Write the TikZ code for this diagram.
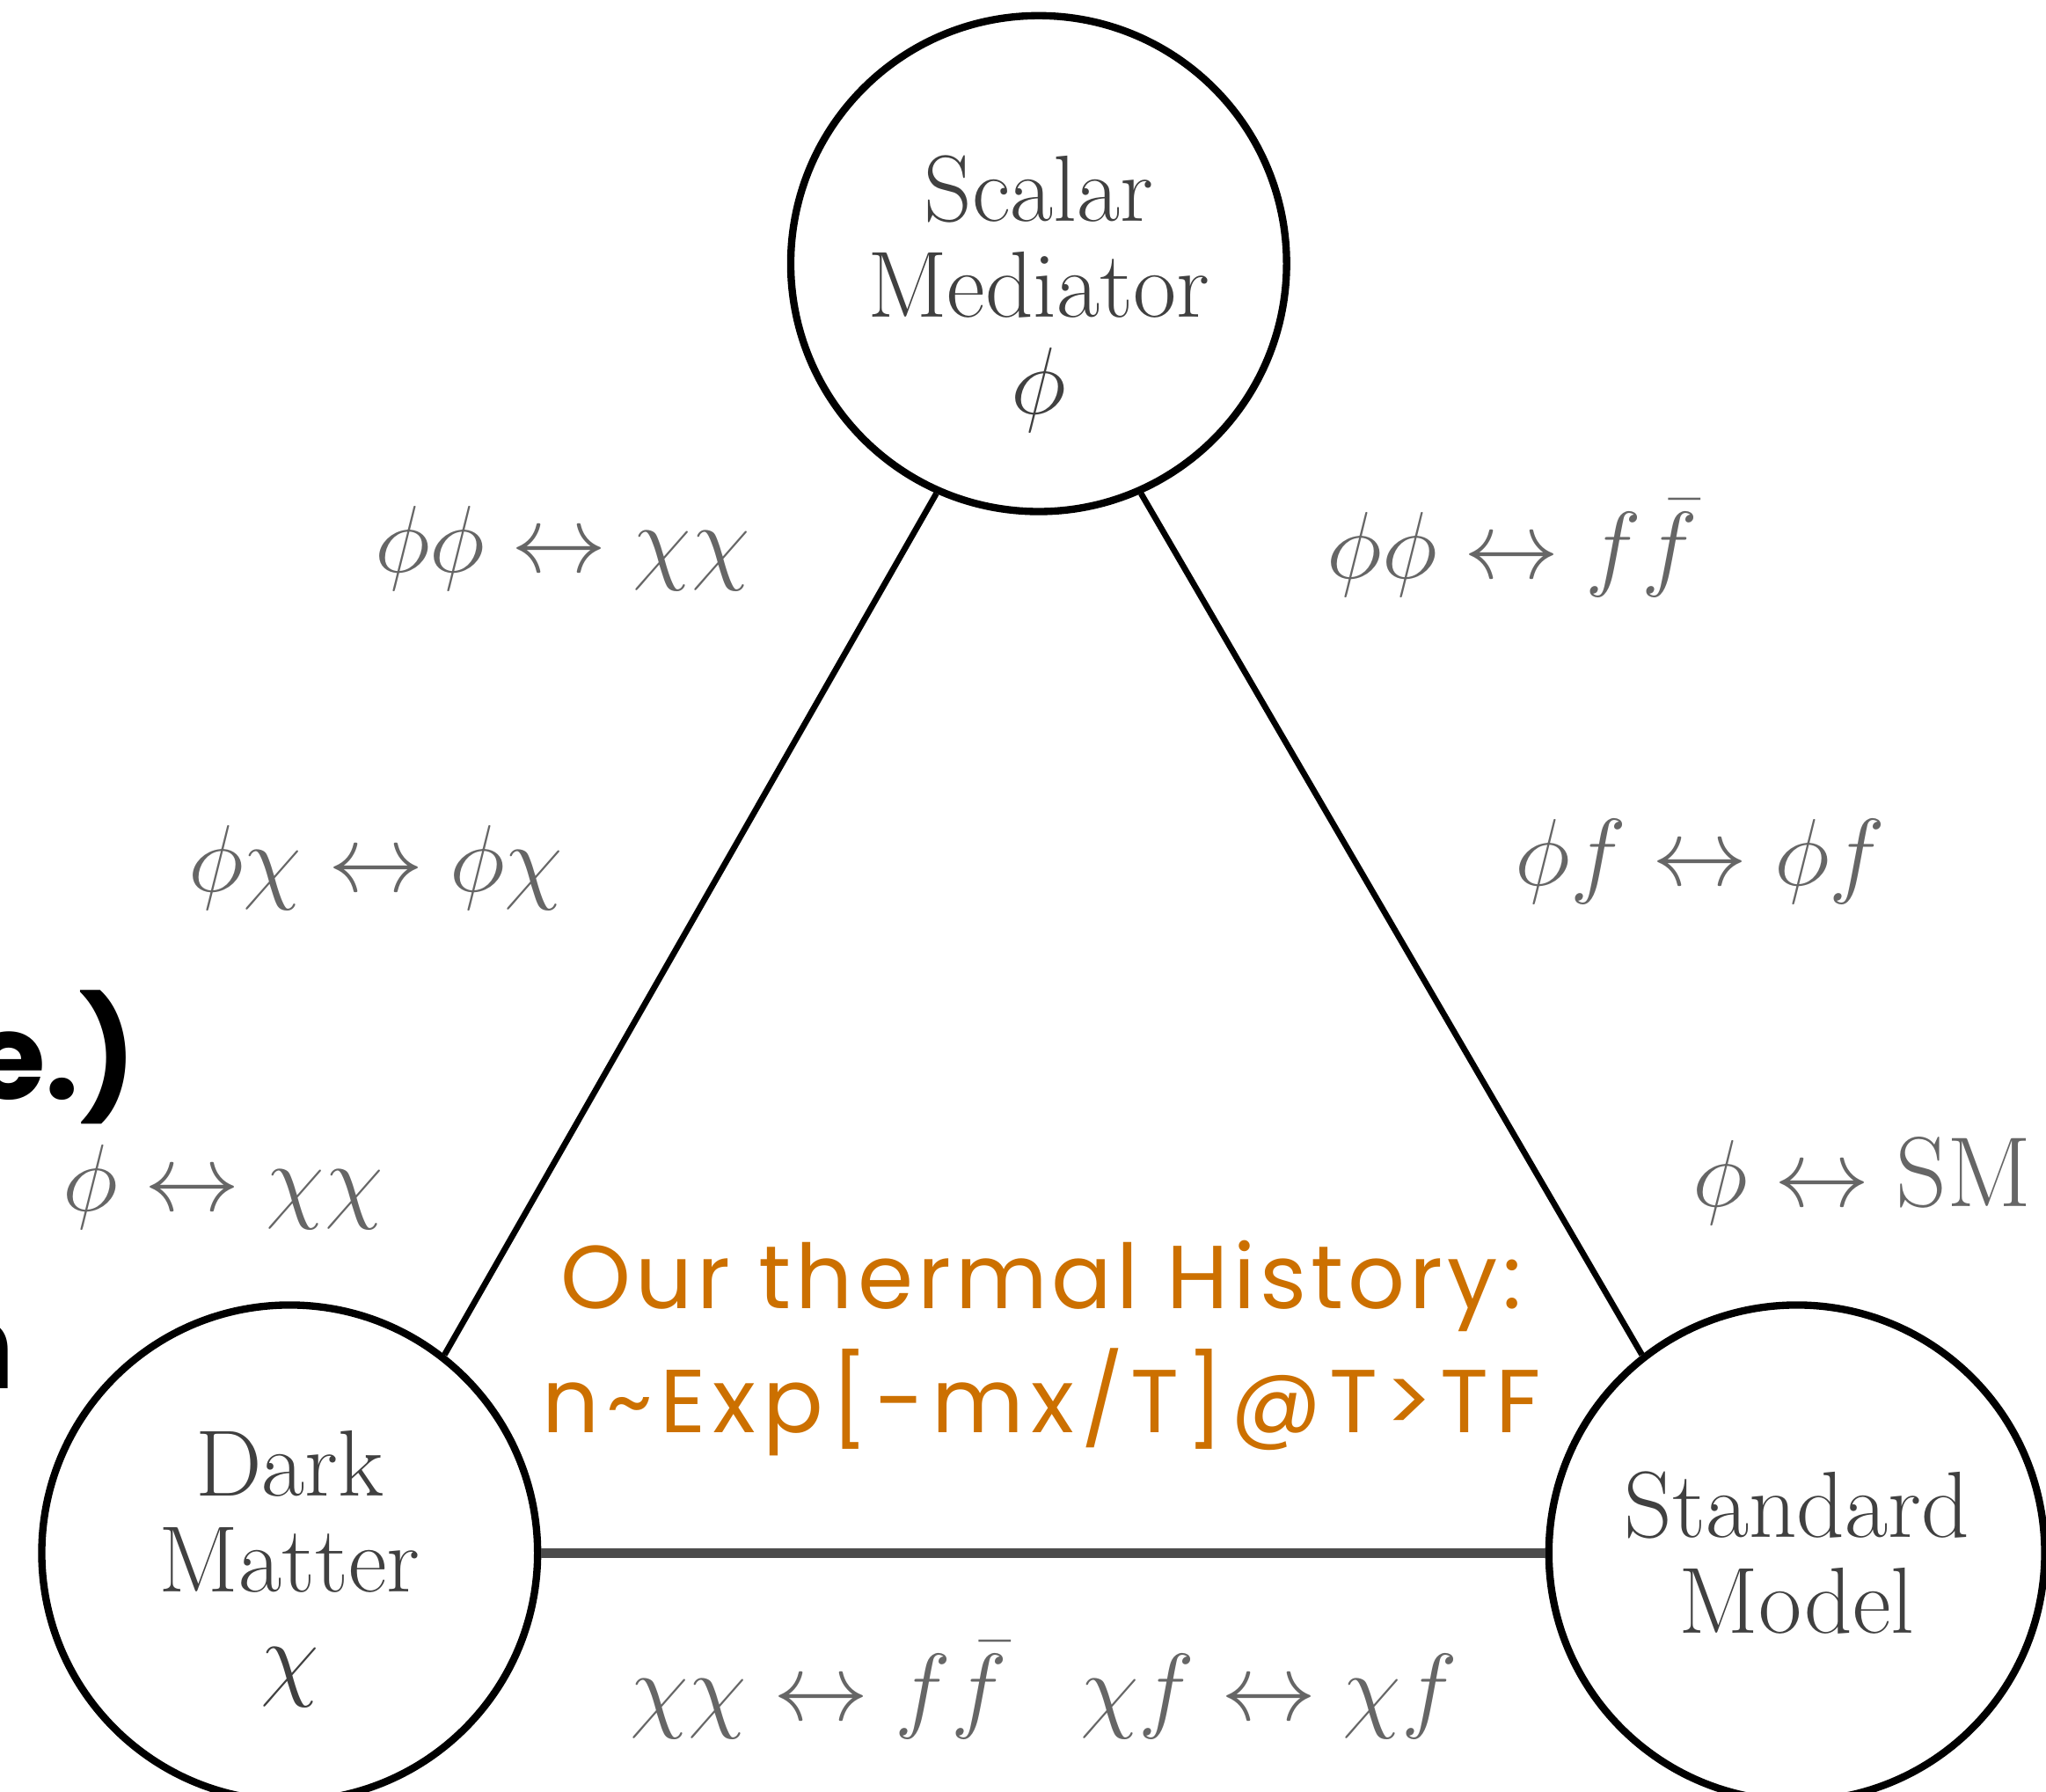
\documentclass[tikz,border=0pt]{standalone}
\usepackage{fontspec}
\usepackage{amsmath}
\newfontfamily\handfont{Poppins}
\definecolor{notesorange}{RGB}{204,112,0}

\begin{document}
\begin{tikzpicture}[
      sector/.style={circle, draw, line width=1.6pt, minimum size=3.8cm,
                     inner sep=0pt},
      sectortxt/.style={align=center, text=black!75, inner sep=0pt,
                        font=\fontsize{20.5}{21}\selectfont},
      proc/.style={text=black!60, font=\fontsize{21.7}{24}\selectfont},
      link/.style={line width=1.3pt},
      note/.style={text=notesorange, align=center,
                   font=\handfont\fontsize{19.5}{27}\selectfont\addfontfeature{LetterSpace=5}},
      scrawl/.style={inner sep=0pt, font=\handfont\bfseries\fontsize{26}{30}\selectfont}]
      \useasboundingbox (0,0) rectangle (15.68,13.73);
      \clip (0,0) rectangle (15.68,13.73);

      % Sectors
      \node[sector] (sm)  at (7.96,11.71) {};
      \node[sector] (dm)  at (2.22,1.83)  {};
      \node[sector] (smd) at (13.77,1.83) {};
      \node[sectortxt] (smtxt)  at ([yshift=-0.23cm]sm.center) {Scalar\\Mediator\\$\phi$};
      \node[sectortxt] (dmtxt)  at ([yshift=-0.12cm]dm.center) {Dark\\Matter\\$\chi$};
      \node[sectortxt] (smdtxt) at (smd.center) {Standard\\Model};

      % Couplings
      \draw[link] (sm.246) -- (dm.52);
      \draw[link] (sm.294) -- (smd.128);
      \draw[line width=2pt, black!70] (dm.east) -- (smd.west);

      % Processes, left side
      \node[proc] (pl1) at (4.31,9.53) {$\phi\phi \leftrightarrow \chi\chi$};
      \node[proc] (pl2) at (2.88,7.08) {$\phi\chi \leftrightarrow \phi\chi$};
      \node[proc] (pl3) at (1.71,4.63) {$\phi \leftrightarrow \chi\chi$};
      % Processes, right side
      \node[proc] (pr1) at (11.59,9.53) {$\phi\phi \leftrightarrow f\bar{f}$};
      \node[proc] (pr2) at (13.03,7.13) {$\phi f \leftrightarrow \phi f$};
      \node[proc] (pr3) at (14.27,4.68) {$\phi \leftrightarrow \mathrm{SM}$};
      % Processes, bottom
      \node[proc] (pb) at (8.00,0.78)
        {$\chi\chi \leftrightarrow f\bar{f}\hspace{16pt} \chi f \leftrightarrow \chi f$};

      % Handwritten notes
      \node[note] (hist) at (7.98,3.40)
        {Our thermal History:\\{\addfontfeature{LetterSpace=8}n\textasciitilde Exp[-mx/T]@T>TF}};
      \node[scrawl, anchor=east] (tag) at (1.05,5.63) {e.)};
      \node[scrawl, anchor=east] (cut) at (0.12,3.35) {n};
    \end{tikzpicture}
\end{document}
